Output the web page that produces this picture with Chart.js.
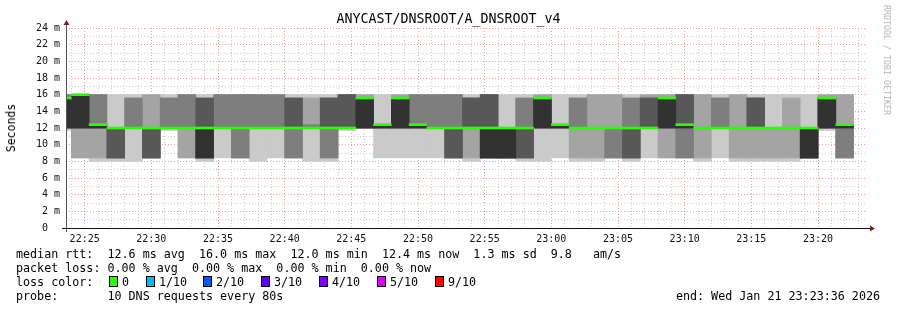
<!DOCTYPE html>
<html>
<head>
<meta charset="utf-8">
<script src="https://cdn.jsdelivr.net/npm/chart.js@4.4.1/dist/chart.umd.min.js"></script>
<style>
  body { margin: 0; background: #fff; }
  #wrap { position: relative; width: 897px; height: 310px; font-family: 'DejaVu Sans Mono', monospace; color: #000; overflow: hidden; }
  #wrap canvas { position: absolute; left: 0; top: 0; }
  .txt { position: absolute; white-space: pre; }
  .leg { font-size: 11.7px; line-height: 14px; left: 16px; }
  .box { position: absolute; width: 7px; height: 9px; border: 1px solid #000; top: 276px; }
  .lbl { position: absolute; font-size: 11.7px; line-height: 14px; top: 275px; white-space: pre; }
</style>
</head>
<body>
<div id="wrap">
  <canvas id="smoke" width="897" height="310"></canvas>
  <div class="txt" style="left:0;width:897px;text-align:center;top:11px;font-size:13.3px;line-height:16px;">ANYCAST/DNSROOT/A_DNSROOT_v4</div>
  <div class="txt" style="left:11px;top:128px;font-size:11.5px;transform:translate(-50%,-50%) rotate(-90deg);">Seconds</div>
  <div class="txt" style="left:887px;top:60px;font-size:8.3px;color:#b4b4b4;transform:translate(-50%,-50%) rotate(90deg);">RRDTOOL / TOBI OETIKER</div>
  <div class="txt leg" style="top:247px;">median rtt:  12.6 ms avg  16.0 ms max  12.0 ms min  12.4 ms now  1.3 ms sd  9.8   am/s</div>
  <div class="txt leg" style="top:261px;">packet loss: 0.00 % avg  0.00 % max  0.00 % min  0.00 % now</div>
  <div class="txt leg" style="top:275px;">loss color:</div>
  <div id="lossLegend"></div>
  <div class="txt leg" style="top:289px;">probe:       10 DNS requests every 80s</div>
  <div class="txt leg" style="top:289px;left:auto;right:17px;">end: Wed Jan 21 23:23:36 2026</div>
</div>
<script>
// graph window and probe step (seconds of the day)
const graphStart = 80616;   // 22:23:36
const graphEnd = 84216;     // 23:23:36
const firstStepEnd = 80640; // 22:24:00
const stepSeconds = 80;

// sorted pings per step (ms), ping1 = fastest ... ping10 = slowest
const ping1 = [11.7, 8.4, 8.0, 8.0, 8.0, 8.4, 11.7, 8.4, 8.0, 8.4,
  8.4, 8.0, 8.4, 8.4, 8.0, 8.0, 11.7, 12, 8.4, 8.4,
  8.4, 8.4, 8.4, 8.0, 8.4, 8.4, 8.0, 8.0, 8.4, 8.0,
  8.0, 8.4, 8.0, 8.4, 8.4, 8.4, 8.0, 8.4, 8.0, 8.0,
  8.0, 8.0, 8.4, 11.7, 8.4];
const ping2 = [12, 8.4, 8.4, 8.4, 12, 8.4, 12, 8.4, 8.4, 12,
  8.4, 12, 12, 8.4, 12, 8.4, 12, 12, 12, 12,
  12, 12, 8.4, 8.4, 8.4, 8.4, 8.4, 12, 12, 8.4,
  8.4, 8.4, 8.4, 12, 8.4, 8.4, 8.4, 12, 8.4, 8.4,
  8.4, 8.4, 8.4, 12, 8.4];
const ping3 = [12, 12, 12, 8.4, 12, 8.4, 12, 12, 8.4, 12,
  8.4, 12, 12, 8.4, 12, 8.4, 12, 12, 12, 12,
  12, 12, 8.4, 12, 8.4, 8.4, 8.4, 12, 12, 12,
  12, 8.4, 8.4, 12, 12, 8.4, 12, 12, 12, 12,
  12, 12, 8.4, 12, 8.4];
const ping4 = [12, 12, 12, 8.4, 12, 8.4, 12, 12, 8.4, 12,
  12, 12, 12, 12, 12, 12, 12, 12, 12, 12,
  12, 12, 8.4, 12, 8.4, 8.4, 8.4, 12, 12, 12,
  12, 12, 8.4, 12, 12, 12, 12, 12, 12, 12,
  12, 12, 8.4, 12, 12];
const ping5 = [12, 12, 12, 12, 12, 12, 12, 12, 8.4, 12,
  12, 12, 12, 12, 12, 12, 12, 12, 12, 12,
  12, 12, 12, 12, 8.4, 8.4, 12, 12, 12, 12,
  12, 12, 12, 12, 12, 12, 12, 12, 12, 12,
  12, 12, 8.4, 12, 12];
const ping6 = [15.6, 16, 12.4, 12, 12, 12, 12, 12, 12, 12,
  12, 12, 12, 12, 12, 12, 12, 15.6, 12.4, 15.6,
  12.4, 12, 12, 12, 12, 12, 12, 15.6, 12.4, 12,
  12, 12, 12, 12, 15.6, 12.4, 12, 12, 12, 12,
  12, 12, 12, 15.6, 12.4];
const ping7 = [15.6, 16, 12.4, 12, 12, 12, 12, 12, 15.6, 12,
  12, 12, 12, 15.6, 12, 15.6, 16, 15.6, 12.4, 15.6,
  12.4, 12, 12, 15.6, 16, 12, 12, 15.6, 12.4, 12,
  12, 12, 12, 15.6, 15.6, 16, 12, 12, 12, 15.6,
  12, 12, 12, 15.6, 12.4];
const ping8 = [16, 16, 16, 12, 15.6, 12, 15.6, 16, 15.6, 16,
  16, 16, 16, 15.6, 12.4, 15.6, 16, 15.6, 12.4, 15.6,
  16, 16, 16, 15.6, 16, 12, 15.6, 15.6, 12.4, 15.6,
  12, 12, 15.6, 15.6, 15.6, 16, 12, 15.6, 12, 15.6,
  12, 12, 12, 15.6, 12.4];
const ping9 = [16, 16, 16, 12, 15.6, 16, 15.6, 16, 15.6, 16,
  16, 16, 16, 15.6, 15.6, 15.6, 16, 16, 12.4, 16,
  16, 16, 16, 15.6, 16, 12, 15.6, 16, 12.4, 15.6,
  16, 16, 15.6, 16, 16, 16, 16, 15.6, 16, 15.6,
  12, 15.6, 12, 16, 16];
const ping10 = [16, 16, 16, 16, 16, 16, 16, 16, 16, 16,
  16, 16, 16, 16, 16, 16, 16, 16, 16, 16,
  16, 16, 16, 16, 16, 16, 16, 16, 16, 16,
  16, 16, 16, 16, 16, 16, 16, 16, 16, 16,
  16, 16, 16, 16, 16];
// median rtt per step (ms)
const median = [15.6, 16, 12.4, 12, 12, 12, 12, 12, 12, 12,
  12, 12, 12, 12, 12, 12, 12, 15.6, 12.4, 15.6,
  12.4, 12, 12, 12, 12, 12, 12, 15.6, 12.4, 12,
  12, 12, 12, 12, 15.6, 12.4, 12, 12, 12, 12,
  12, 12, 12, 15.6, 12.4];

const lossLabels = ['0', '1/10', '2/10', '3/10', '4/10', '5/10', '9/10'];
const lossColors = ['#26ff00', '#00b8ff', '#0059ff', '#5e00ff', '#7e00ff', '#dd00ff', '#ff0000'];
const lossBoxX = [109, 146, 203, 261, 319, 377, 435];

const smokeShades = ['#cacaca', '#a4a4a4', '#7e7e7e', '#585858', '#323232'];
const medianHalf = 0.12; // half thickness of the median bar, ms

// loss colour legend
const lossLegend = document.getElementById('lossLegend');
lossLabels.forEach((lab, i) => {
    const box = document.createElement('div');
    box.className = 'box';
    box.style.left = lossBoxX[i] + 'px';
    box.style.background = lossColors[i];
    lossLegend.appendChild(box);
    const t = document.createElement('div');
    t.className = 'lbl';
    t.style.left = (lossBoxX[i] + 13) + 'px';
    t.textContent = lab;
    lossLegend.appendChild(t);
});

const stepCenter = (k) => firstStepEnd + stepSeconds * k - stepSeconds / 2;

const pings = [ping1, ping2, ping3, ping4, ping5, ping6, ping7, ping8, ping9, ping10];
const smokeSets = smokeShades.map((color, i) => {
    const lo = pings[i], hi = pings[9 - i];
    const data = [];
    lo.forEach((v, k) => {
        if (hi[k] > v) data.push({x: stepCenter(k), y: [v, hi[k]]});
    });
    return {
        data: data,
        backgroundColor: color,
        xAxisID: 'steps',
        order: 10 - i
    };
});

const medianSet = {
    data: median.map((m, k) => ({x: stepCenter(k), y: [m - medianHalf, m + medianHalf]})),
    backgroundColor: lossColors[0],
    xAxisID: 'steps',
    order: 0
};

const hhmm = (v) => {
    const h = Math.floor(v / 3600), m = Math.floor((v % 3600) / 60);
    return String(h).padStart(2, '0') + ':' + String(m).padStart(2, '0');
};

const gridColor = 'rgba(185,185,185,0.75)';
const mgridColor = 'rgba(240,130,130,0.8)';

const axisArrows = {
    id: 'axisArrows',
    afterDraw(chart) {
        const {ctx, chartArea} = chart;
        const a = chartArea;
        ctx.save();
        ctx.lineWidth = 1;
        ctx.strokeStyle = '#555';
        ctx.beginPath();
        ctx.moveTo(a.left + 0.5, a.bottom + 4);
        ctx.lineTo(a.left + 0.5, a.top - 4);
        ctx.stroke();
        ctx.strokeStyle = '#111';
        ctx.beginPath();
        ctx.moveTo(a.left - 4, a.bottom + 0.5);
        ctx.lineTo(a.right + 4, a.bottom + 0.5);
        ctx.stroke();
        ctx.fillStyle = '#7f1f1f';
        ctx.beginPath();
        ctx.moveTo(a.left + 0.5, a.top - 8);
        ctx.lineTo(a.left - 2.5, a.top - 3);
        ctx.lineTo(a.left + 3.5, a.top - 3);
        ctx.closePath();
        ctx.fill();
        ctx.beginPath();
        ctx.moveTo(a.right + 9, a.bottom + 0.5);
        ctx.lineTo(a.right + 4, a.bottom - 2.5);
        ctx.lineTo(a.right + 4, a.bottom + 3.5);
        ctx.closePath();
        ctx.fill();
        ctx.restore();
    }
};

new Chart(document.getElementById('smoke'), {
    type: 'bar',
    data: {datasets: smokeSets.concat([medianSet])},
    options: {
        responsive: false,
        animation: false,
        devicePixelRatio: 1,
        layout: {padding: {left: 0, right: 31, top: 28, bottom: 0}},
        plugins: {legend: {display: false}, tooltip: {enabled: false}},
        datasets: {bar: {grouped: false, barPercentage: 1, categoryPercentage: 1, borderWidth: 0}},
        scales: {
            steps: {
                type: 'linear', display: false, bounds: 'data', offset: false,
                min: graphStart, max: graphEnd,
                grid: {offset: false}
            },
            x: {
                type: 'linear', position: 'bottom', bounds: 'data', offset: false, z: 1,
                min: graphStart, max: graphEnd,
                afterBuildTicks(scale) {
                    const ticks = [];
                    for (let t = Math.ceil(graphStart / 60) * 60; t <= graphEnd; t += 60) ticks.push({value: t});
                    scale.ticks = ticks;
                },
                afterFit(scale) { scale.height = 82; },
                ticks: {
                    autoSkip: false, maxRotation: 0, padding: 5, color: '#111',
                    font: {family: 'DejaVu Sans Mono', size: 10},
                    callback: (v) => (v % 300 === 0 ? hhmm(v) : '')
                },
                grid: {
                    offset: false, drawTicks: false,
                    color: (c) => (c.tick && c.tick.value % 300 === 0 ? mgridColor : gridColor)
                },
                border: {display: false, dash: [1, 2]}
            },
            y: {
                type: 'linear', min: 0, max: 24, z: 1,
                afterFit(scale) { scale.width = 66; },
                ticks: {
                    stepSize: 1, autoSkip: false, padding: 6, color: '#111',
                    font: {family: 'DejaVu Sans Mono', size: 10},
                    callback: (v) => (v === 0 ? '0  ' : (v % 2 === 0 ? v + ' m' : ''))
                },
                grid: {
                    drawTicks: false,
                    color: (c) => (c.tick && c.tick.value % 2 === 0 ? mgridColor : gridColor)
                },
                border: {display: false, dash: [1, 2]}
            }
        }
    },
    plugins: [axisArrows]
});
</script>
</body>
</html>
